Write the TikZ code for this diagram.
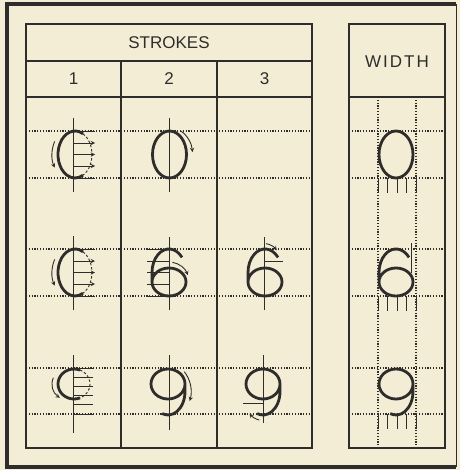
\documentclass[tikz,border=0pt]{standalone}
\usepackage{fontspec}
\setmainfont{Liberation Sans}
\definecolor{paper}{HTML}{F2EDD4}
\definecolor{ink}{HTML}{2E2D2B}

\newcommand{\zerofig}[2]{\draw[stroke] (#1,#2) ++(0,23.5) ellipse [x radius=17, y radius=23.5];}
\newcommand{\sixfig}[2]{\draw[stroke] (#1,#2) ++(0,23.5) ++(320:17 and 23.5) arc[start angle=320,end angle=180,x radius=17,y radius=23.5] -- ++(0,9.5) arc[start angle=180,end angle=540,x radius=17,y radius=14];}
\newcommand{\ninefig}[2]{\draw[stroke] (#1,#2) ++(17,16) arc[start angle=0,end angle=-360,x radius=17,y radius=15] -- ++(0,7.5) arc[start angle=0,end angle=110,x radius=17,y radius=23.5];}

\begin{document}
\begin{tikzpicture}[x=1pt,y=-1pt,>=stealth,
    frame/.style={ink,line width=1.2pt},
    guide/.style={ink,dash pattern=on 1.2pt off 1.6pt,line width=1.1pt},
    stroke/.style={ink,line width=2.8pt},
    thin/.style={ink,line width=0.9pt},
    hint/.style={ink,dash pattern=on 2.5pt off 2pt,line width=0.9pt},
    head/.style={ink,font=\fontsize{17}{20}\selectfont}]
  \fill[paper] (0,0) rectangle (460,470);
  \useasboundingbox (0,0) rectangle (460,470);
  \draw[ink,line width=4pt] (456,4) -- (7,4) -- (7,467) -- (456,467);
  \draw[ink,line width=1pt] (456,4) -- (456,467);

  \draw[frame] (26,24) rectangle (312,448);
  \draw[frame] (26,61) -- (312,61);
  \draw[frame] (26,97) -- (312,97);
  \draw[frame] (121,61) -- (121,448);
  \draw[frame] (217,61) -- (217,448);
  \draw[frame] (349,24) rectangle (445,448);
  \draw[frame] (349,97) -- (445,97);
  \node[head] (strokes) at (169,43) {STROKES};
  \node[head] (one) at (73.5,79) {1};
  \node[head] (two) at (169,79) {2};
  \node[head] (three) at (264.5,79) {3};
  \node[head] (width) at (397,62) {\addfontfeature{LetterSpace=12}WIDTH};

  \foreach \y in {131,178,249,296,368,414} {
    \draw[guide] (26,\y) -- (312,\y);
    \draw[guide] (349,\y) -- (445,\y);
  }
  \draw[guide] (378,97) -- (378,448);
  \draw[guide] (416,97) -- (416,448);

  \foreach \t in {131,249} {
    \draw[thin] (73,\t-13) -- (73,\t+61);
    \draw[stroke] (75,\t+23.5) ++(298:17 and 23.5) arc[start angle=298,end angle=62,x radius=17,y radius=23.5];
    \draw[hint] (75,\t+23.5) ++(298:17 and 23.5) arc[start angle=-62,end angle=62,x radius=17,y radius=23.5];
    \draw[thin] (73,\t) -- (95,\t);
    \draw[thin] (73,\t+47) -- (95,\t+47);
    \foreach \d in {12,23.5,35} \draw[thin,->] (73,\t+\d) -- (95,\t+\d);
    \draw[thin,->] (75,\t+23.5) ++(208:23 and 28) arc[start angle=208,end angle=152,x radius=23,y radius=28];
  }

  \draw[thin] (169,118) -- (169,192);
  \zerofig{169.5}{131}
  \draw[thin,->] (169.5,154.5) ++(300:23 and 27) arc[start angle=300,end angle=355,x radius=23,y radius=27];

  \draw[thin] (169,237) -- (169,310);
  \foreach \y in {249,261,272.5,284,296} \draw[thin] (147,\y) -- (169,\y);
  \sixfig{169}{249}
  \draw[thin,->] (169,282) ++(280:20 and 20) arc[start angle=280,end angle=340,x radius=20,y radius=20];

  \draw[thin] (264,237) -- (264,310);
  \sixfig{265}{249}
  \draw[thin] (264,261) -- (283,261);
  \draw[thin,->] (264,272.5) ++(276:20 and 29) arc[start angle=276,end angle=310,x radius=20,y radius=29];

  \draw[thin] (73,355) -- (73,433);
  \draw[stroke] (74,384) ++(292:16 and 15) arc[start angle=292,end angle=68,x radius=16,y radius=15];
  \draw[hint] (74,384) ++(292:16 and 15) arc[start angle=-68,end angle=68,x radius=16,y radius=15];
  \foreach \y in {368,377,386,395,404,414} \draw[thin] (73,\y) -- (93,\y);
  \draw[thin,->] (74,384) ++(200:22 and 18) arc[start angle=200,end angle=130,x radius=22,y radius=18];

  \draw[thin] (169,355) -- (169,430);
  \ninefig{168}{368}
  \draw[thin,->] (168,391.5) ++(-45:23 and 28) arc[start angle=-45,end angle=20,x radius=23,y radius=28];

  \draw[thin] (263,355) -- (263,423);
  \ninefig{263}{368}
  \draw[thin] (243,403) -- (263,403);
  \draw[thin,->] (263,391.5) ++(100:21 and 29) arc[start angle=100,end angle=130,x radius=21,y radius=29];

  \zerofig{396}{131}
  \sixfig{396}{249}
  \ninefig{396}{368}
  \draw[thin] (411,243) -- (411,273);
  \foreach \b in {178,296,414}
    \foreach \x in {378,387.5,397,406.5,416} \draw[thin] (\x,\b) -- (\x,\b+15);
\end{tikzpicture}
\end{document}
